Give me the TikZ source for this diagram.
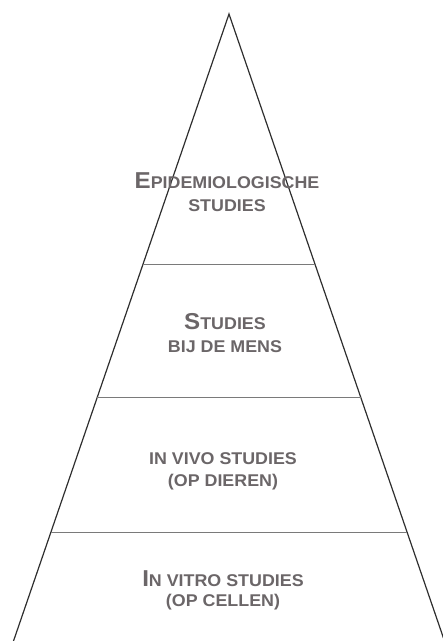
\documentclass[tikz,border=0pt]{standalone}
\usepackage{fontspec}
\setmainfont{Liberation Sans}[FakeStretch=1.05]
\usetikzlibrary{calc}
\definecolor{txtgray}{HTML}{6B6668}
\definecolor{edgegray}{HTML}{2E2E2E}
\definecolor{rulegray}{HTML}{7A7A7A}
\newcommand\capinit[1]{{\fontsize{23}{23}\selectfont #1}}
\tikzset{
  lbl/.style={anchor=base, inner sep=0pt, text=txtgray, font=\bfseries\fontsize{17}{17}\selectfont},
  edge/.style={draw=edgegray, line width=1.2pt, line join=miter},
  tier/.style={draw=rulegray, line width=1pt}
}
\begin{document}
\begin{tikzpicture}[x=1pt,y=-1pt]
\useasboundingbox (0,0) rectangle (443,641);
\coordinate (A) at (229,14);
\coordinate (L) at (13.5,641);
\coordinate (R) at (444.5,641);
\draw[edge] (L) -- (A) -- (R);
\foreach \t [count=\i] in {0.3995,0.6124,0.8262}{
  \coordinate (l\i) at ($(A)!\t!(L)$);
  \coordinate (r\i) at ($(A)!\t!(R)$);
  \draw[tier] (l\i) -- (r\i);
}
\node[lbl] (e1) at (227,188) {\capinit{E}PIDEMIOLOGISCHE};
\node[lbl] (e2) at (227,211) {STUDIES};
\node[lbl] (s1) at (225,329) {\capinit{S}TUDIES};
\node[lbl] (s2) at (225,352) {BIJ DE MENS};
\node[lbl] (v1) at (223,464) {IN VIVO STUDIES};
\node[lbl] (v2) at (223,486) {(OP DIEREN)};
\node[lbl] (t1) at (223,586) {\capinit{I}N VITRO STUDIES};
\node[lbl] (t2) at (223,606) {(OP CELLEN)};
\end{tikzpicture}
\end{document}
